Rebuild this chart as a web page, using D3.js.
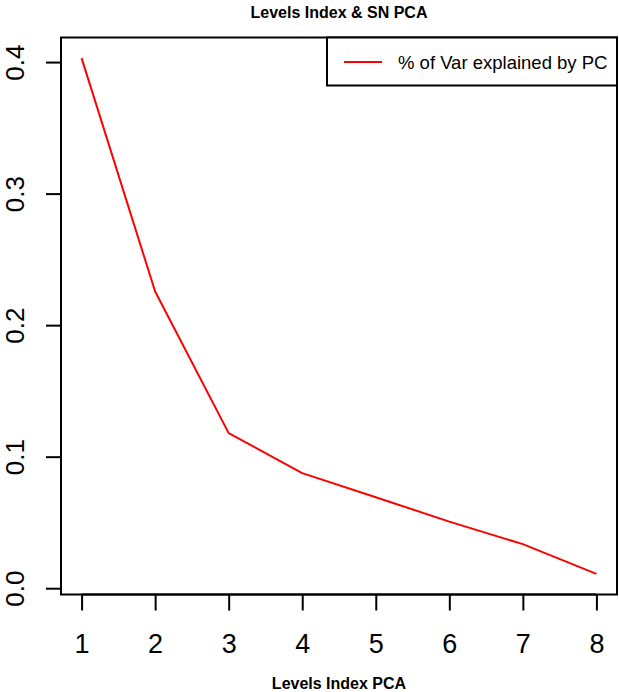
<!DOCTYPE html>
<html>
<head>
<meta charset="utf-8">
<script src="https://cdn.jsdelivr.net/npm/d3@7"></script>
<style>
  body { margin: 0; background: #fff; }
  svg { display: block; font-family: "Liberation Sans", Arial, Helvetica, sans-serif; }
</style>
</head>
<body>
<svg id="chart"></svg>
<script>
const svgWidth = 619;
const svgHeight = 692;

// data
const components = [1, 2, 3, 4, 5, 6, 7, 8];
const varExplained = [0.403, 0.2256, 0.1179, 0.0875, 0.0692, 0.0506, 0.0335, 0.0109];
const yTicks = [0, 0.1, 0.2, 0.3, 0.4];
const xTicks = [1, 2, 3, 4, 5, 6, 7, 8];
const chartTitle = "Levels Index & SN PCA";
const xTitle = "Levels Index PCA";
const legendLabel = "% of Var explained by PC";

// plot box, R style
const box = { left: 61, right: 617, top: 37.5, bottom: 594.5 };

const svg = d3.select("#chart")
  .attr("width", svgWidth)
  .attr("height", svgHeight);

// R pads the data range by 4% on each side
const xr = d3.extent(components);
const yr = d3.extent(varExplained);
const xPad = (xr[1] - xr[0]) * 0.04;
const yPad = (yr[1] - yr[0]) * 0.04;

const x = d3.scaleLinear()
  .domain([xr[0] - xPad, xr[1] + xPad])
  .range([box.left, box.right]);
const y = d3.scaleLinear()
  .domain([yr[0] - yPad, yr[1] + yPad])
  .range([box.bottom, box.top]);

// line
const line = d3.line()
  .x((d, i) => x(components[i]))
  .y(d => y(d));

svg.append("path")
  .datum(varExplained)
  .attr("fill", "none")
  .attr("stroke", "#ff0000")
  .attr("stroke-width", 2)
  .attr("stroke-linejoin", "round")
  .attr("d", line);

// x axis
const xAxis = svg.append("g")
  .attr("transform", "translate(0," + box.bottom + ")")
  .call(d3.axisBottom(x).tickValues(xTicks).tickFormat(d3.format("d")).tickSize(16).tickPadding(23));
xAxis.select(".domain")
  .attr("d", "M" + x(xTicks[0]) + ",0H" + x(xTicks[xTicks.length - 1]));
xAxis.selectAll("line, path").attr("stroke", "#000").attr("stroke-width", 2);
xAxis.selectAll("text").attr("font-size", 27).attr("fill", "#000")
  .attr("font-family", "Liberation Sans, Arial, sans-serif");

// y axis
const yAxis = svg.append("g")
  .attr("transform", "translate(" + box.left + ",0)")
  .call(d3.axisLeft(y).tickValues(yTicks).tickFormat(d3.format(".1f")).tickSize(15).tickPadding(0));
yAxis.select(".domain")
  .attr("d", "M0," + y(yTicks[0]) + "V" + y(yTicks[yTicks.length - 1]));
yAxis.selectAll("line, path").attr("stroke", "#000").attr("stroke-width", 2);
yAxis.selectAll("text")
  .attr("font-size", 26).attr("fill", "#000")
  .attr("font-family", "Liberation Sans, Arial, sans-serif")
  .attr("x", null).attr("dy", null)
  .attr("text-anchor", "middle")
  .attr("transform", "translate(-37,0) rotate(-90)");

// box
svg.append("rect")
  .attr("x", box.left).attr("y", box.top)
  .attr("width", box.right - box.left)
  .attr("height", box.bottom - box.top)
  .attr("fill", "none")
  .attr("stroke", "#000")
  .attr("stroke-width", 2);

// titles
svg.append("text")
  .attr("x", (box.left + box.right) / 2).attr("y", 18)
  .attr("text-anchor", "middle")
  .attr("font-weight", "bold").attr("font-size", 16)
  .text(chartTitle);

svg.append("text")
  .attr("x", (box.left + box.right) / 2).attr("y", 689)
  .attr("text-anchor", "middle")
  .attr("font-weight", "bold").attr("font-size", 16)
  .text(xTitle);

// legend
const legend = svg.append("g");
legend.append("rect")
  .attr("x", 327).attr("y", box.top)
  .attr("width", box.right - 327).attr("height", 48)
  .attr("fill", "#fff").attr("stroke", "#000").attr("stroke-width", 2);
legend.append("line")
  .attr("x1", 344).attr("x2", 382)
  .attr("y1", 62).attr("y2", 62)
  .attr("stroke", "#ff0000").attr("stroke-width", 2);
legend.append("text")
  .attr("x", 398).attr("y", 68.5)
  .attr("font-size", 18.5)
  .text(legendLabel);
</script>
</body>
</html>
